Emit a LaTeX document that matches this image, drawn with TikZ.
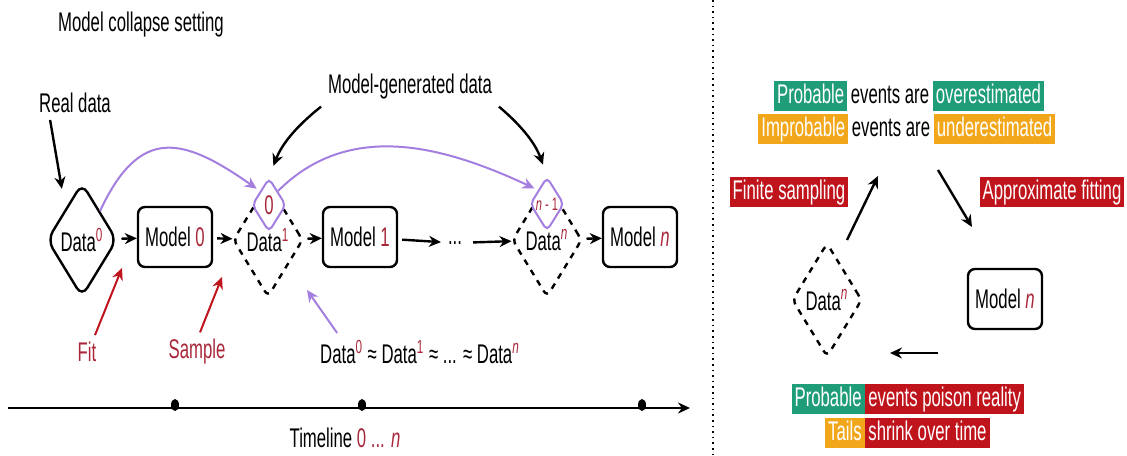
\documentclass[tikz,border=0pt]{standalone}
\usepackage{fontspec}
\setmainfont{Liberation Sans}[FakeStretch=0.62]
\usepackage{xcolor}
\usetikzlibrary{shapes.geometric,arrows.meta,positioning}

\definecolor{hlgreen}{HTML}{1F9C78}
\definecolor{hlorange}{HTML}{F2A71B}
\definecolor{hlred}{HTML}{C0141C}
\definecolor{lilac}{HTML}{A47FE0}
\definecolor{idxred}{HTML}{A8283A}

\newcommand{\idx}[1]{\textcolor{idxred}{#1}}
\newcommand{\idxn}{\textcolor{idxred}{\textit{n}}}

\begin{document}
\begin{tikzpicture}[
    x=0.5pt, y=-0.5pt,
    font=\fontsize{13.5}{15}\selectfont,
    model/.style={draw, line width=1.2pt, rounded corners=3.5pt, inner xsep=2pt, minimum width=37pt, minimum height=30pt},
    datum/.style={diamond, draw, line width=1.2pt, rounded corners=5pt, inner sep=0pt, aspect=0.6, minimum width=35pt, minimum height=57pt},
    synth/.style={datum, rounded corners=3pt, dash pattern=on 3pt off 3pt},
    seed/.style={diamond, draw=lilac, fill=white, line width=1pt, rounded corners=2.5pt, inner sep=0pt, aspect=0.6, minimum width=17pt, minimum height=27pt},
    arr/.style={-{Stealth[length=6pt,width=5.5pt]}, line width=1.2pt},
    parr/.style={arr, draw=lilac, line width=1pt},
    rarr/.style={arr, draw=hlred, line width=1pt},
    plain/.style={inner xsep=1.5pt, inner ysep=1pt, text height=10pt, text depth=3pt},
    hl/.style={plain, text=white}
]
\useasboundingbox (0,0) rectangle (1127,455);

% left: the chain of data and models
\node (title) at (141,25) {Model collapse setting};
\node (rd) at (75,103) {Real data};
\node (mg) at (410,87) {Model-generated data};

\node[datum] (d0) at (82,240) {Data\textsuperscript{\idx{0}}};
\node[model] (m0) at (175,237) {Model \idx{0}};
\node[synth] (d1) at (268,240) {Data\textsuperscript{\idx{1}}};
\node[seed] (s0) at (269,205) {\idx{0}};
\node[model] (m1) at (360,237) {Model \idx{1}};
\node (dots) at (455,243) {...};
\node[synth] (dn) at (547,240) {Data\textsuperscript{\idxn}};
\node[seed, font=\fontsize{9}{10}\selectfont] (sn) at (547,204) {\idx{\textit{n} - 1}};
\node[model] (mn) at (640,237) {Model \idxn};

\draw[arr, shorten <=2pt] (d0) -- (m0);
\draw[arr, shorten <=2pt] (m0) -- (d1);
\draw[arr, shorten <=2pt] (d1) -- (m1);
\draw[arr, shorten <=2pt] (m1) -- (dots);
\draw[arr, shorten <=2pt] (dots) -- (dn);
\draw[arr, shorten <=2pt] (dn) -- (mn);

\draw[parr, shorten >=2pt] (d0.north east) to[out=65, in=145, looseness=1.5] (s0.north west);
\draw[parr, shorten >=2pt] (s0.north east) to[out=45, in=155] (sn.north west);

\draw[arr] ([xshift=9pt]rd.south west) -- ([xshift=-1pt,yshift=11pt]d0.north west);
\draw[arr, shorten >=6pt] (mg.south west) to[bend right=15] (s0.north);
\draw[arr, shorten >=6pt] (mg.south east) to[bend left=15] (sn.north);

% annotations below the chain
\node[text=idxred] (fit) at (87,352) {Fit};
\node[text=idxred] (sample) at (197,352) {Sample};
\node (same) at (420,352) {Data\textsuperscript{\idx{0}} ≈ Data\textsuperscript{\idx{1}} ≈ ... ≈ Data\textsuperscript{\idxn}};
\coordinate (fitto) at (122,268);
\coordinate (sampleto) at (222,277);
\coordinate (sameto) at (307,290);
\draw[rarr] ([xshift=4pt]fit.north) -- (fitto);
\draw[rarr] ([xshift=1.5pt]sample.north) -- (sampleto);
\draw[parr] ([xshift=12pt]same.north west) -- (sameto);

% timeline
\coordinate (tl0) at (8,408);
\coordinate (tl1) at (690,408);
\draw[arr] (tl0) -- (tl1);
\foreach \t in {175,362,642}
    \fill (\t,405) ellipse (2pt and 3pt);
\node (timeline) at (345,438) {Timeline \idx{0 ...} \idxn};

\draw[dotted, line width=0.8pt] (713,0) -- (713,455);

% right: the feedback loop
\node[plain] (are1) at (890,96) {events are};
\node[hl, fill=hlgreen, left=0pt of are1] (prob1) {Probable};
\node[hl, fill=hlgreen, right=0pt of are1] (over1) {overestimated};
\node[plain] (are2) at (891,129) {events are};
\node[hl, fill=hlorange, left=0pt of are2] (improb2) {Improbable};
\node[hl, fill=hlorange, right=0pt of are2] (under2) {underestimated};

\node[hl, fill=hlred] (finite) at (789,192) {Finite sampling};
\node[hl, fill=hlred] (approx) at (1052,192) {Approximate fitting};

\node[synth] (dn2) at (827,300) {Data\textsuperscript{\idxn}};
\node[model] (mn2) at (1005,299) {Model \idxn};

\coordinate (up0) at (847,240);
\coordinate (up1) at (878,176);
\coordinate (down0) at (938,170);
\coordinate (down1) at (972,227);
\coordinate (back0) at (938,353);
\coordinate (back1) at (890,353);
\draw[arr] (up0) -- (up1);
\draw[arr] (down0) -- (down1);
\draw[arr] (back0) -- (back1);

\node[hl, fill=hlred, anchor=west] (poison) at (865,399) {events poison reality};
\node[hl, fill=hlgreen, left=0pt of poison] (prob3) {Probable};
\node[hl, fill=hlred, anchor=west] (shrink) at (865,433) {shrink over time};
\node[hl, fill=hlorange, left=0pt of shrink] (tails) {Tails};
\end{tikzpicture}
\end{document}
